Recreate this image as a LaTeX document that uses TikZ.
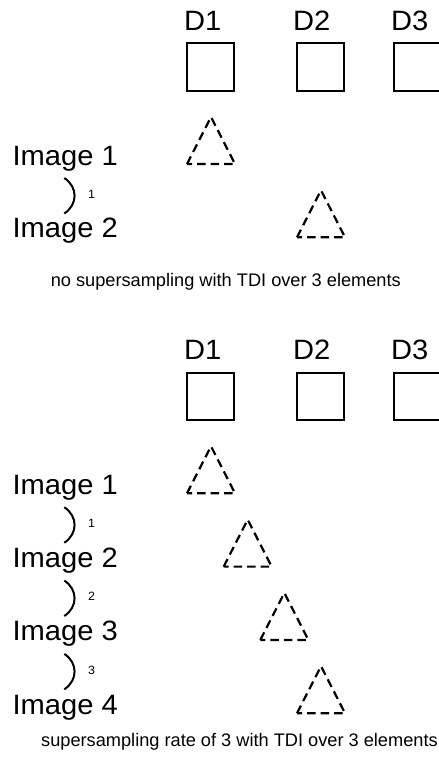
\documentclass[tikz,border=0pt]{standalone}
\usepackage{fontspec}
\setmainfont{Liberation Sans}[FakeStretch=1.04]
\newfontfamily\captfont{Liberation Sans}
\begin{document}
\begin{tikzpicture}[x=1pt,y=-1pt,
  lbl/.style={font=\fontsize{28}{30}\selectfont, anchor=base west, inner sep=0pt},
  det/.style={draw, line width=2pt, minimum width=47.3pt, minimum height=47.3pt, inner sep=0pt},
  tri/.style={line width=2.2pt, dash pattern=on 8.5pt off 5pt},
  num/.style={font=\fontsize{12}{13}\selectfont, anchor=base west, inner sep=0pt},
  capt/.style={font=\captfont\fontsize{18.2}{20}\selectfont, anchor=base west, inner sep=0pt},
  brk/.style={line width=2pt}]
\clip (0,0) rectangle (439,758);
\fill[white] (0,0) rectangle (439,758);
% ---------- top section ----------
\node[lbl] (tD1) at (183.8,30) {D1};
\node[lbl] (tD2) at (292.8,30) {D2};
\node[lbl] (tD3) at (391,30) {D3};
\node[det] (tB1) at (210.7,67) {};
\node[det] (tB2) at (320.7,67) {};
\node[det] (tB3) at (418,67) {};
\node[lbl] (tI1) at (12.4,165) {Image 1};
\node[lbl] (tI2) at (12.4,237.3) {Image 2};
\draw[tri] (187,164) -- ++(24,-47) -- ++(24,47) -- cycle;
\draw[tri] (297,237.3) -- ++(24,-47) -- ++(24,47) -- cycle;
\coordinate (tb1a) at (64.3,178);
\coordinate (tb1b) at (64.3,213.5);
\draw[brk] (tb1a) .. controls (78,187) and (78,204.5) .. (tb1b);
\node[num] (tn1) at (87.8,198.3) {1};
\node[capt] (tcap) at (50.6,286.4) {no supersampling with TDI over 3 elements};
% ---------- bottom section ----------
\node[lbl] (bD1) at (183.8,359.3) {D1};
\node[lbl] (bD2) at (292.8,359.3) {D2};
\node[lbl] (bD3) at (391,359.3) {D3};
\node[det] (bB1) at (210.7,396.3) {};
\node[det] (bB2) at (320.7,396.3) {};
\node[det] (bB3) at (418,396.3) {};
\node[lbl] (bI1) at (12.4,494.3) {Image 1};
\node[lbl] (bI2) at (12.4,567.6) {Image 2};
\node[lbl] (bI3) at (12.4,640.9) {Image 3};
\node[lbl] (bI4) at (12.4,714.2) {Image 4};
\foreach \k in {0,1,2,3}{
  \draw[tri] (187+36.67*\k,493.3+73.3*\k) -- ++(24,-47) -- ++(24,47) -- cycle;
}
\foreach \k/\c in {1/525,2/598.3,3/671.6}{
  \coordinate (bb\k a) at (64.3,\c-17.75);
  \coordinate (bb\k b) at (64.3,\c+17.75);
  \draw[brk] (bb\k a) .. controls (78,\c-8.75) and (78,\c+8.75) .. (bb\k b);
  \node[num] (bn\k) at (87.8,\c+2.6) {\k};
}
\node[capt] (bcap) at (41,746.4) {supersampling rate of 3 with TDI over 3 elements};
\end{tikzpicture}
\end{document}
